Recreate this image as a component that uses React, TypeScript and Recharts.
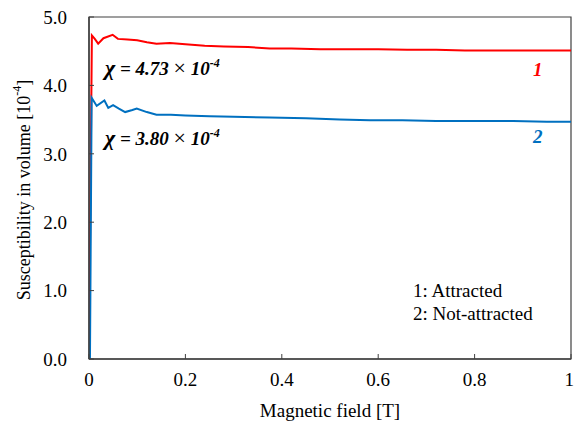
import React from "react";
import {
  LineChart,
  Line,
  XAxis,
  YAxis,
  ReferenceArea,
} from "recharts";

// Magnetic field [T] and susceptibility [10^-4]
const fieldAttracted = [
  0, 0.006, 0.012, 0.019, 0.03, 0.049, 0.06, 0.08, 0.1, 0.12, 0.14, 0.168,
  0.2, 0.24, 0.28, 0.33, 0.375, 0.42, 0.48, 0.54, 0.6, 0.66, 0.72, 0.78,
  0.84, 0.9, 0.95, 1.0,
];
const chiAttracted = [
  0, 4.73, 4.68, 4.61, 4.69, 4.74, 4.68, 4.67, 4.66, 4.63, 4.61, 4.62, 4.6,
  4.58, 4.57, 4.56, 4.54, 4.54, 4.53, 4.53, 4.53, 4.52, 4.52, 4.51, 4.51,
  4.51, 4.51, 4.51,
];

const fieldNotAttracted = [
  0.002, 0.0055, 0.016, 0.032, 0.04, 0.05, 0.062, 0.075, 0.09, 0.099, 0.12,
  0.14, 0.17, 0.2, 0.25, 0.3, 0.375, 0.45, 0.52, 0.583, 0.65, 0.72, 0.8,
  0.88, 0.95, 1.0,
];
const chiNotAttracted = [
  0, 3.82, 3.7, 3.78, 3.67, 3.71, 3.66, 3.61, 3.64, 3.66, 3.61, 3.57, 3.57,
  3.56, 3.55, 3.54, 3.53, 3.52, 3.5, 3.49, 3.49, 3.48, 3.48, 3.48, 3.47,
  3.47,
];

const xTicks = [0, 0.2, 0.4, 0.6, 0.8, 1];
const yTicks = [0, 1, 2, 3, 4, 5];

const legendLines = ["1: Attracted", "2: Not-attracted"];

const attracted = fieldAttracted.map((x, i) => ({ x, y: chiAttracted[i] }));
const notAttracted = fieldNotAttracted.map((x, i) => ({
  x,
  y: chiNotAttracted[i],
}));

const FONT = '"Liberation Serif", "Times New Roman", serif';
const AXIS = "#404040";
const RED = "#FF0000";
const BLUE = "#0070C0";

const YTitle = () => (
  <text
    x={24}
    y={190}
    transform="rotate(-90, 24, 190)"
    textAnchor="middle"
    dominantBaseline="central"
    fontFamily={FONT}
    fontSize={18}
    fill="#000"
  >
    Susceptibility in volume [10
    <tspan dy={-7} fontSize={12}>
      -4
    </tspan>
    <tspan dy={7}>]</tspan>
  </text>
);

const Chi = ({ x, y, value }: { x: number; y: number; value: string }) => (
  <text
    x={x}
    y={y}
    fontFamily={FONT}
    fontSize={19}
    fontStyle="italic"
    fontWeight="bold"
    fill="#000"
  >
    <tspan fontSize={22}>χ</tspan> = {value}{" "}
    <tspan fontWeight="normal" fontStyle="normal" fontSize={22}>
      ×
    </tspan>
    {" "}10
    <tspan dy={-8} fontSize={12}>
      -4
    </tspan>
  </text>
);

export default function App() {
  return (
    <div
      style={{
        position: "absolute",
        left: 0,
        top: 0,
        width: 574,
        height: 423,
        background: "#fff",
      }}
    >
      <LineChart
        width={574}
        height={423}
        margin={{ top: 17, right: 3, bottom: 0, left: 0 }}
      >
        <XAxis
          type="number"
          dataKey="x"
          domain={[0, 1]}
          ticks={xTicks}
          height={64}
          allowDataOverflow
          tickFormatter={(v: number) =>
            v === 0 || v === 1 ? String(v) : v.toFixed(1)
          }
          tick={{ fontFamily: FONT, fontSize: 19, fill: "#000" }}
          axisLine={{ stroke: AXIS, strokeWidth: 1.5 }}
          tickLine={{ stroke: AXIS }}
          tickSize={-5}
          tickMargin={19}
          label={{
            value: "Magnetic field [T]",
            position: "insideBottom",
            offset: 6,
            style: { fontFamily: FONT, fontSize: 19, fill: "#000" },
          }}
        />
        <YAxis
          type="number"
          dataKey="y"
          domain={[0, 5]}
          ticks={yTicks}
          width={89}
          tickFormatter={(v: number) => v.toFixed(1)}
          tick={{ fontFamily: FONT, fontSize: 19, fill: "#000" }}
          axisLine={{ stroke: AXIS, strokeWidth: 1.5 }}
          tickLine={{ stroke: AXIS }}
          tickSize={-5}
          tickMargin={27}
        />
        <ReferenceArea
          x1={0}
          x2={1}
          y1={0}
          y2={5}
          fill="none"
          stroke={AXIS}
          strokeWidth={1.2}
          ifOverflow="visible"
        />
        <Line
          data={attracted}
          dataKey="y"
          type="linear"
          stroke={RED}
          strokeWidth={2}
          dot={false}
          isAnimationActive={false}
        />
        <Line
          data={notAttracted}
          dataKey="y"
          type="linear"
          stroke={BLUE}
          strokeWidth={2}
          dot={false}
          isAnimationActive={false}
        />
      </LineChart>
      <svg
        width={574}
        height={423}
        style={{ position: "absolute", left: 0, top: 0, pointerEvents: "none" }}
      >
        <YTitle />
        <Chi x={105} y={75} value="4.73" />
        <Chi x={105} y={145} value="3.80" />
        <text
          x={533}
          y={76}
          fontFamily={FONT}
          fontSize={19}
          fontStyle="italic"
          fontWeight="bold"
          fill={RED}
        >
          1
        </text>
        <text
          x={533}
          y={143}
          fontFamily={FONT}
          fontSize={19}
          fontStyle="italic"
          fontWeight="bold"
          fill={BLUE}
        >
          2
        </text>
        {legendLines.map((t, i) => (
          <text
            key={t}
            x={413}
            y={297 + i * 23}
            fontFamily={FONT}
            fontSize={19}
            fill="#000"
          >
            {t}
          </text>
        ))}
      </svg>
    </div>
  );
}
